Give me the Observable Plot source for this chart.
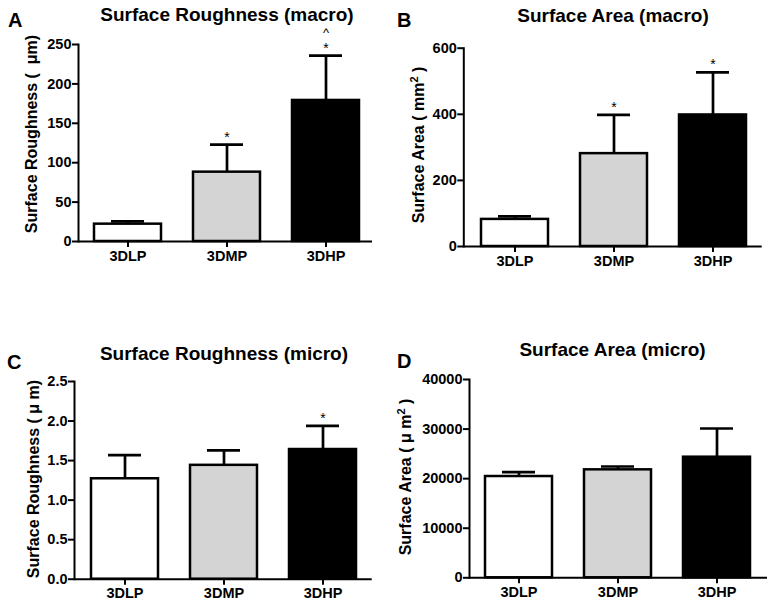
<!DOCTYPE html>
<html><head><meta charset="utf-8">
<script src="https://cdn.jsdelivr.net/npm/d3@7"></script>
<script src="https://cdn.jsdelivr.net/npm/@observablehq/plot@0.6"></script>
<style>
body{margin:0;background:#fff;}
#fig{position:relative;width:776px;height:606px;overflow:hidden;font-family:"Liberation Sans",Arial,sans-serif;font-weight:bold;color:#000;background:#fff;}
.abs{position:absolute;}
.title{font-size:19px;transform:translate(-50%,-50%);white-space:nowrap;}
.letter{font-size:20px;transform:translateY(-50%);}
.ylab{font-size:16px;transform:translate(-50%,-50%) rotate(-90deg);white-space:nowrap;}
.ylab sup{font-size:11px;}
</style></head><body><div id="fig"></div>
<script>
// ---- data ----
const groups = ["3DLP", "3DMP", "3DHP"];

const roughMacroMean = [22, 88, 179];
const roughMacroSD = [3.5, 35, 57];
const roughMacroStars = ["", "*", "*"];
const roughMacroCaret = ["", "", "^"];
const roughMacroTicks = [0, 50, 100, 150, 200, 250];

const areaMacroMean = [82, 281, 398];
const areaMacroSD = [9, 117, 129];
const areaMacroStars = ["", "*", "*"];
const areaMacroTicks = [0, 200, 400, 600];

const roughMicroMean = [1.27, 1.44, 1.64];
const roughMicroSD = [0.30, 0.19, 0.30];
const roughMicroStars = ["", "", "*"];
const roughMicroTicks = [0, 0.5, 1.0, 1.5, 2.0, 2.5];

const areaMicroMean = [20430, 21780, 24330];
const areaMicroSD = [870, 670, 5790];
const areaMicroStars = ["", "", ""];
const areaMicroTicks = [0, 10000, 20000, 30000, 40000];

// ---- styles ----
const barFills = ["white", "#d4d4d4", "black"];
const FONT = '"Liberation Sans", Arial, sans-serif';
const fig = document.getElementById("fig");

function table(means, sds, stars, carets) {
  return groups.map((g, i) => ({
    group: g, mean: means[i], top: means[i] + sds[i],
    star: stars[i], caret: carets ? carets[i] : ""
  }));
}

function panel(cfg) {
  const data = table(cfg.mean, cfg.sd, cfg.stars, cfg.carets);
  const ticks = cfg.ticks;
  const chart = Plot.plot({
    width: cfg.w, height: cfg.h,
    marginLeft: cfg.ml, marginRight: cfg.mr, marginTop: cfg.mt, marginBottom: cfg.mb,
    style: {fontFamily: FONT, fontSize: "14.5px", fontWeight: "bold", background: "transparent", overflow: "visible"},
    x: {domain: groups, paddingInner: 0.32, paddingOuter: cfg.po, align: cfg.align, axis: null},
    y: {domain: [ticks[0], ticks[ticks.length - 1]], axis: null},
    color: {domain: groups, range: barFills},
    marks: [
      Plot.barY(data, {x: "group", y: "mean", fill: "group", stroke: "black", strokeWidth: 2.5}),
      Plot.ruleX(data, {x: "group", y1: "mean", y2: "top", stroke: "black", strokeWidth: 2.7}),
      Plot.tickY(data, {x: "group", y: "top", stroke: "black", strokeWidth: 2.7, insetLeft: 17, insetRight: 17}),
      Plot.text(data, {x: "group", y: "top", text: "star", dy: -7.5, fontSize: 14, fontWeight: "normal"}),
      Plot.text(data, {x: "group", y: "top", text: "caret", dy: -22.5, fontSize: 13, fontWeight: "normal"}),
      Plot.axisY({ticks: ticks, tickFormat: cfg.fmt, tickSize: 6, tickPadding: 1, strokeWidth: 2, label: null, fontSize: 14.5}),
      Plot.axisX({tickSize: 6, tickPadding: 3, strokeWidth: 2, label: null, fontSize: 14.5}),
      Plot.frame({anchor: "left", strokeWidth: 2}),
      Plot.ruleY([ticks[0]], {strokeWidth: 2})
    ]
  });
  const wrap = document.createElement("div");
  wrap.className = "abs";
  wrap.style.left = cfg.left + "px";
  wrap.style.top = cfg.top + "px";
  wrap.appendChild(chart);
  fig.appendChild(wrap);

  const t = document.createElement("div");
  t.className = "abs title";
  t.style.left = cfg.tx + "px"; t.style.top = cfg.ty + "px";
  t.textContent = cfg.title;
  fig.appendChild(t);

  const l = document.createElement("div");
  l.className = "abs letter";
  l.style.left = cfg.lx + "px"; l.style.top = cfg.ly + "px";
  l.textContent = cfg.letter;
  fig.appendChild(l);

  const y = document.createElement("div");
  y.className = "abs ylab";
  y.style.left = cfg.yx + "px"; y.style.top = cfg.yy + "px";
  y.innerHTML = cfg.ylabel;
  fig.appendChild(y);
}

panel({
  left: 0, top: 0, w: 388, h: 290, ml: 78, mr: 16, mt: 44, mb: 49, po: 0.135, align: 0.57,
  mean: roughMacroMean, sd: roughMacroSD, stars: roughMacroStars, carets: roughMacroCaret,
  ticks: roughMacroTicks, fmt: "d",
  title: "Surface Roughness (macro)", tx: 227, ty: 15,
  letter: "A", lx: 8, ly: 20,
  ylabel: "Surface Roughness (&nbsp; μm)", yx: 31.5, yy: 134
});
panel({
  left: 388, top: 0, w: 388, h: 290, ml: 75.3, mr: 14.3, mt: 47.7, mb: 44, po: 0.16, align: 0.54,
  mean: areaMacroMean, sd: areaMacroSD, stars: areaMacroStars,
  ticks: areaMacroTicks, fmt: "d",
  title: "Surface Area (macro)", tx: 613, ty: 16,
  letter: "B", lx: 397, ly: 19.5,
  ylabel: "Surface Area ( mm<sup>2</sup> )", yx: 418, yy: 145
});
panel({
  left: 0, top: 300, w: 388, h: 306, ml: 74, mr: 16.3, mt: 81, mb: 27.3, po: 0.163, align: 0.53,
  mean: roughMicroMean, sd: roughMicroSD, stars: roughMicroStars,
  ticks: roughMicroTicks, fmt: ".1f",
  title: "Surface Roughness (micro)", tx: 224, ty: 354,
  letter: "C", lx: 7, ly: 362,
  ylabel: "Surface Roughness ( μ m)", yx: 34, yy: 479
});
panel({
  left: 388, top: 300, w: 388, h: 306, ml: 81, mr: 9, mt: 79, mb: 28.7, po: 0.16, align: 0.49,
  mean: areaMicroMean, sd: areaMicroSD, stars: areaMicroStars,
  ticks: areaMicroTicks, fmt: "d",
  title: "Surface Area (micro)", tx: 612.5, ty: 350,
  letter: "D", lx: 397, ly: 361,
  ylabel: "Surface Area ( μ m<sup>2</sup> )", yx: 405, yy: 477
});
</script></body></html>
